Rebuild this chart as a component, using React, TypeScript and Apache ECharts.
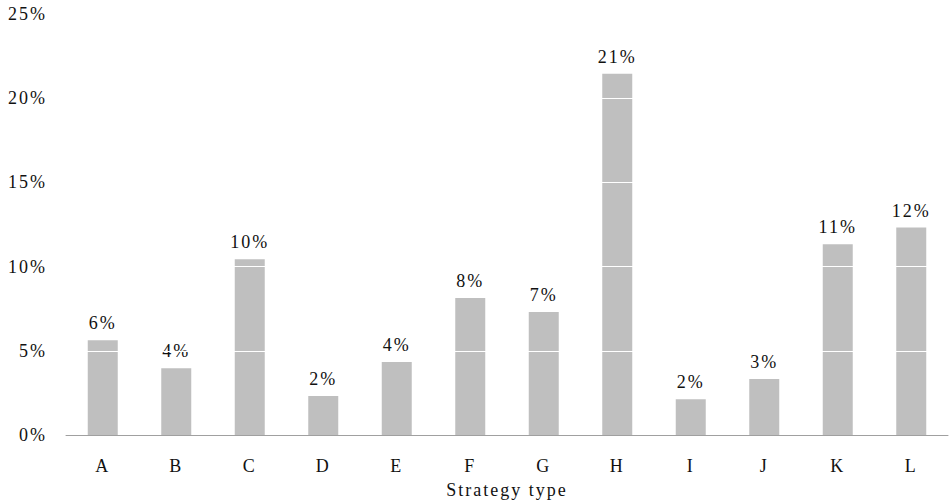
import React, { useEffect, useRef } from "react";
import * as echarts from "echarts";

// Share of each strategy type, in percent
const categories = ["A", "B", "C", "D", "E", "F", "G", "H", "I", "J", "K", "L"];
const shares = [5.63, 3.97, 10.44, 2.31, 4.33, 8.13, 7.3, 21.45, 2.13, 3.32, 11.32, 12.32];
const yTicks = [0, 5, 10, 15, 20, 25];
const xAxisTitle = "Strategy type";

const FONT = "'Liberation Serif', 'Times New Roman', serif";
const TEXT_COLOR = "#111";

export default function App() {
  const ref = useRef<HTMLDivElement>(null);

  useEffect(() => {
    if (!ref.current) return;
    const chart = echarts.init(ref.current, null, { renderer: "svg" });
    chart.setOption({
      animation: false,
      backgroundColor: "#fff",
      textStyle: { fontFamily: FONT, color: TEXT_COLOR },
      grid: { left: 66, right: 3, top: 14, bottom: 68, containLabel: false },
      xAxis: {
        type: "category",
        data: categories,
        z: 5,
        axisLine: { show: true, lineStyle: { color: "#a0a0a0", width: 1 } },
        axisTick: { show: false },
        axisLabel: { fontSize: 18, color: TEXT_COLOR, fontFamily: FONT, margin: 22 },
        name: xAxisTitle,
        nameLocation: "middle",
        nameGap: 46,
        nameTextStyle: { fontSize: 18, color: TEXT_COLOR, fontFamily: FONT },
      },
      yAxis: {
        type: "value",
        min: yTicks[0],
        max: yTicks[yTicks.length - 1],
        interval: yTicks[1] - yTicks[0],
        z: 3,
        axisLine: { show: false },
        axisTick: { show: false },
        axisLabel: {
          fontSize: 18,
          color: TEXT_COLOR,
          fontFamily: FONT,
          margin: 19,
          formatter: "{value}%",
        },
        splitLine: {
          show: true,
          showMinLine: false,
          lineStyle: { color: "#ffffff", width: 1 },
        },
      },
      series: [
        {
          type: "bar",
          data: shares,
          barWidth: 30,
          z: 2,
          itemStyle: { color: "#bfbfbf" },
          label: {
            show: true,
            position: "top",
            distance: 8,
            fontSize: 18,
            color: TEXT_COLOR,
            fontFamily: FONT,
            formatter: (p: any) => `${Math.round(p.value)}%`,
          },
        },
      ],
    });
    return () => chart.dispose();
  }, []);

  return (
    <div
      ref={ref}
      style={{
        position: "fixed",
        left: 0,
        top: 0,
        width: 951,
        height: 504,
        letterSpacing: "2px",
      }}
    />
  );
}
